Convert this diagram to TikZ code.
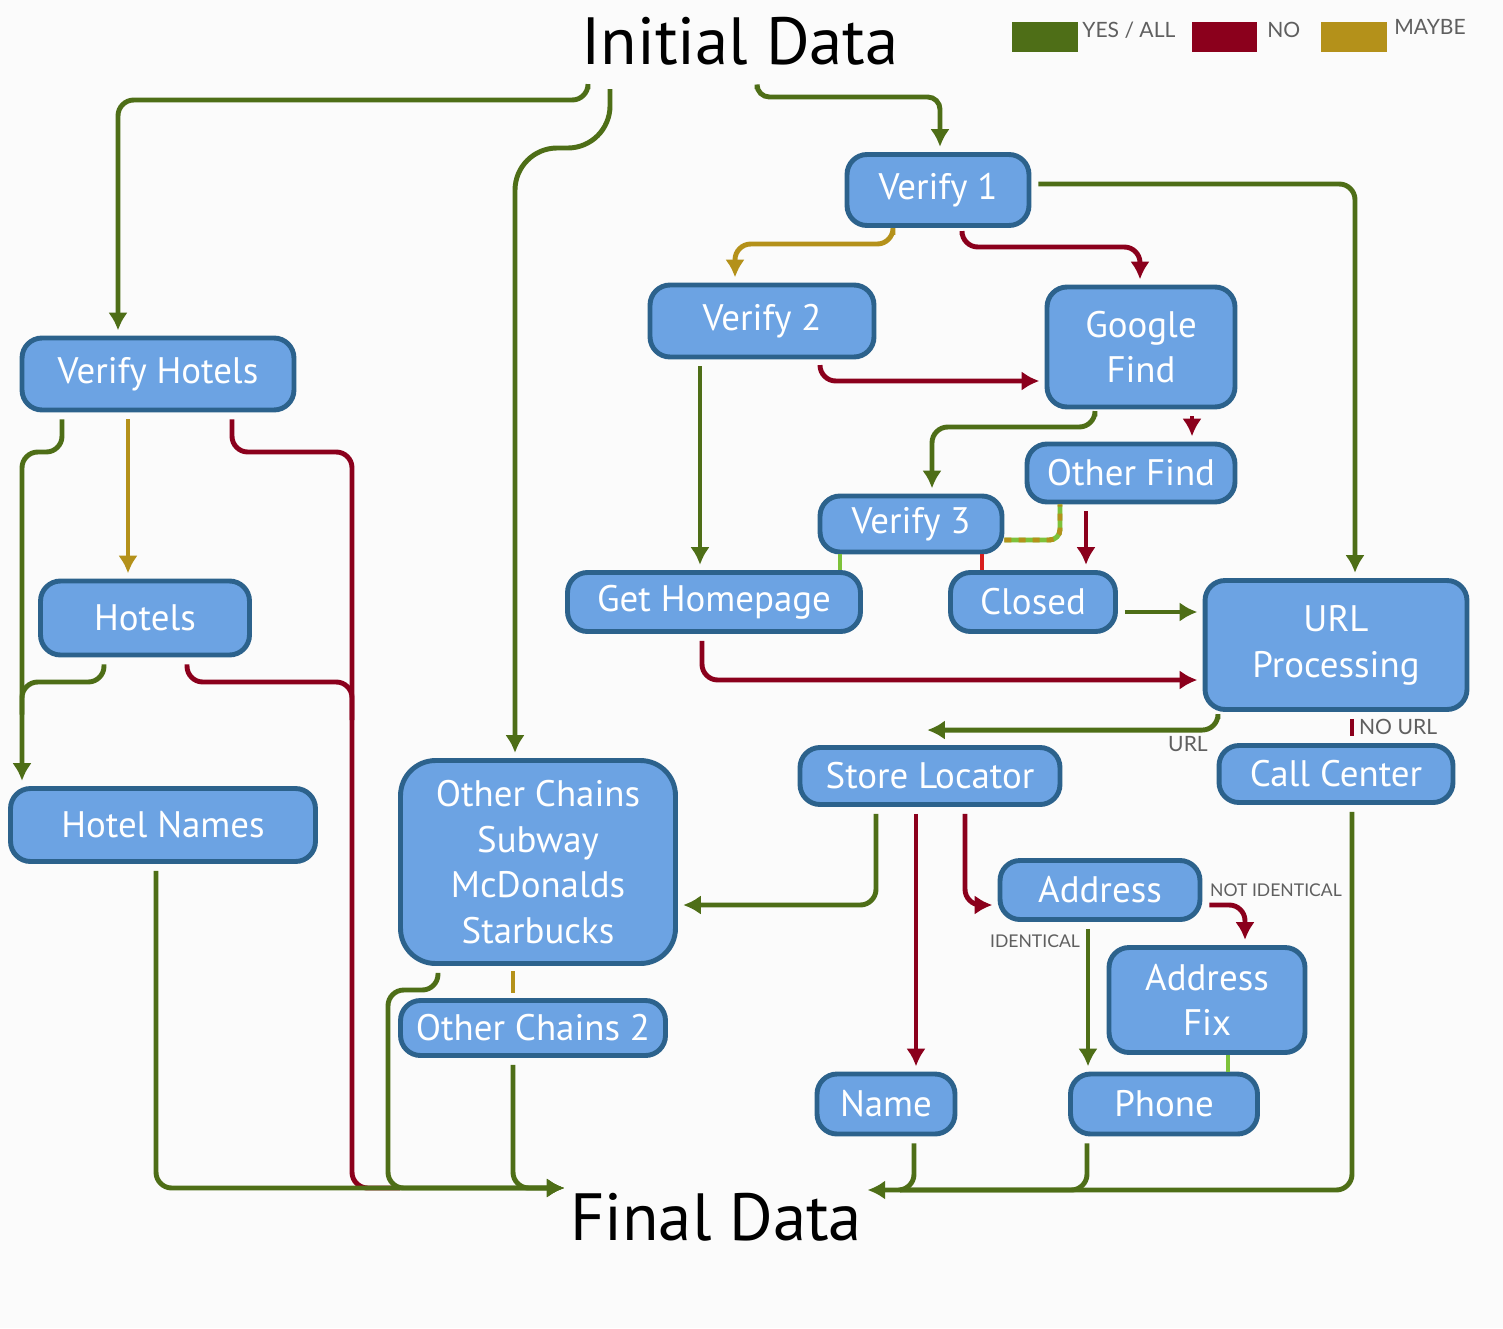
\documentclass[tikz,border=0pt]{standalone}
\usepackage{fontspec}
\setmainfont{PT Sans}
\newfontfamily\legendfont{Lato}
\usetikzlibrary{arrows.meta,calc}

\definecolor{pagebg}{RGB}{251,251,251}
\definecolor{boxfill}{RGB}{108,163,227}
\definecolor{boxline}{RGB}{44,98,140}
\definecolor{yescol}{RGB}{78,110,23}
\definecolor{nocol}{RGB}{139,0,28}
\definecolor{maybecol}{RGB}{180,145,26}
\definecolor{lightyes}{RGB}{125,194,58}
\definecolor{brightno}{RGB}{216,30,30}
\definecolor{labelgray}{RGB}{95,95,95}

\newcommand\boxfont{\fontsize{21}{26}\selectfont}
\newcommand\titlefont{\fontsize{38}{44}\selectfont}

\tikzset{
	box/.style={draw=boxline, fill=boxfill, line width=2.8pt, rounded corners=0.4cm,
		text=white, font=\boxfont, align=center, inner sep=0pt},
	title/.style={font=\titlefont, inner sep=0pt, anchor=base},
	flow/.style={line width=2.8pt, rounded corners=9pt, shorten <=4pt, shorten >=3pt,
		arrows={-Latex[length=10pt,width=11pt]}},
	flowyes/.style={flow, draw=yescol},
	flowno/.style={flow, draw=nocol},
	flowmaybe/.style={flow, draw=maybecol},
	stub/.style={line width=2.8pt},
	smalllabel/.style={font=\legendfont\fontsize{10}{12}\selectfont, text=labelgray, inner sep=1pt},
	urllabel/.style={font=\legendfont\fontsize{12}{14}\selectfont, text=labelgray, inner sep=1pt},
	legendtext/.style={font=\legendfont\fontsize{12}{14}\selectfont, text=labelgray, inner sep=0pt, anchor=west}
}

\begin{document}
\begin{tikzpicture}[x=0.02cm,y=-0.02cm]
	\fill[pagebg] (0,0) rectangle (1503,1328);
	\useasboundingbox (0,0) rectangle (1503,1328);

	% titles
	\node[title] (init) at (740,65) {Initial Data};
	\node[title] (final) at (716,1240) {Final Data};

	% legend
	\fill[yescol] (1012,22) rectangle (1078,52);
	\node[legendtext] (lyes) at (1082,30) {YES / ALL};
	\fill[nocol] (1192,22) rectangle (1257,52);
	\node[legendtext] (lno) at (1267,30) {NO};
	\fill[maybecol] (1321,22) rectangle (1387,52);
	\node[legendtext] (lmaybe) at (1394,27) {MAYBE};

	% boxes
	\node[box, minimum width=3.64cm, minimum height=1.42cm] (v1) at (938,190) {Verify 1};
	\node[box, minimum width=4.48cm, minimum height=1.44cm] (v2) at (762,321) {Verify 2};
	\node[box, minimum width=3.76cm, minimum height=2.40cm] (gfind) at (1141,347) {Google\\Find};
	\node[box, minimum width=5.44cm, minimum height=1.44cm] (vhotels) at (158,374) {Verify Hotels};
	\node[box, minimum width=4.16cm, minimum height=1.16cm] (ofind) at (1131,473) {Other Find};
	\node[box, minimum width=3.64cm, minimum height=1.12cm] (v3) at (911,524) {Verify 3};
	\node[box, minimum width=5.86cm, minimum height=1.18cm] (homepage) at (714,602) {Get Homepage};
	\node[box, minimum width=3.30cm, minimum height=1.18cm] (closed) at (1033,602) {Closed};
	\node[box, minimum width=5.24cm, minimum height=2.58cm] (urlproc) at (1336,645) {URL\\Processing};
	\node[box, minimum width=4.18cm, minimum height=1.48cm] (hotels) at (145,618) {Hotels};
	\node[box, minimum width=6.10cm, minimum height=1.46cm] (hnames) at (163,825) {Hotel Names};
	\node[box, rounded corners=0.7cm, minimum width=5.50cm, minimum height=4.06cm] (ochains) at (538,862) {Other Chains\\Subway\\McDonalds\\Starbucks};
	\node[box, minimum width=5.20cm, minimum height=1.14cm] (storeloc) at (930,776) {Store Locator};
	\node[box, minimum width=4.68cm, minimum height=1.14cm] (callc) at (1336,774) {Call Center};
	\node[box, minimum width=4.00cm, minimum height=1.18cm] (address) at (1100,890) {Address};
	\node[box, minimum width=3.92cm, minimum height=2.10cm] (afix) at (1207,1000) {Address\\Fix};
	\node[box, minimum width=5.30cm, minimum height=1.10cm] (ochains2) at (533,1028) {Other Chains 2};
	\node[box, minimum width=2.76cm, minimum height=1.20cm] (name) at (886,1104) {Name};
	\node[box, minimum width=3.74cm, minimum height=1.20cm] (phone) at (1164,1104) {Phone};

	% from the initial data
	\draw[flowyes] ($(init.base)+(-152,17)$) |- (118,100) -- (vhotels.north -| 118,0);
	\draw[flowyes, rounded corners=24pt] ($(init.base)+(-130,17)$) |- (515,148) -- (ochains.north -| 515,0);
	\draw[flowyes, rounded corners=7pt] ($(init.base)+(17,17)$) |- (940,97) -- (v1.north -| 940,0);

	% verify chain
	\draw[flowyes] (v1.east |- 0,184) -| (urlproc.north -| 1355,0);
	\draw[flowmaybe] (v1.south -| 893,0) |- (735,244) -- (v2.north -| 735,0);
	\draw[flowno] (v1.south -| 962,0) |- (1140,247) -- (gfind.north -| 1140,0);
	\draw[flowno] (v2.south -| 820,0) |- (gfind.west |- 0,381);
	\draw[flowyes] (v2.south -| 700,0) -- (homepage.north -| 700,0);
	\draw[flowyes] (gfind.south -| 1095,0) |- (932,427) -- (v3.north -| 932,0);
	\draw[flowno] (gfind.south -| 1192,0) -- (ofind.north -| 1192,0);
	\draw[flowno] (ofind.south -| 1086,0) -- (closed.north -| 1086,0);
	\draw[stub, lightyes, rounded corners=6pt] (v3.east |- 0,540) -| (ofind.south -| 1060,0);
	\draw[stub, maybecol, rounded corners=6pt, dash pattern=on 4pt off 4pt] (v3.east |- 0,540) -| (ofind.south -| 1060,0);
	\draw[stub, lightyes] (v3.south -| 840,0) -- (homepage.north -| 840,0);
	\draw[stub, brightno] (v3.south -| 982,0) -- (closed.north -| 982,0);
	\draw[flowyes] (closed.east |- 0,612) -- (urlproc.west |- 0,612);
	\draw[flowno] (homepage.south -| 702,0) |- (urlproc.west |- 0,680);

	% url processing
	\draw[flowyes] (urlproc.south -| 1218,0) |- ($(storeloc.north)+(-8,-15)$);
	\node[urllabel] (lurl) at (1188,744) {URL};
	\draw[stub, nocol, shorten <=4pt, shorten >=4pt] (urlproc.south -| 1352,0) -- (callc.north -| 1352,0);
	\node[urllabel, anchor=west] (lnourl) at (1357,727) {NO URL};

	% store locator
	\draw[flowyes] (storeloc.south -| 876,0) |- (ochains.east |- 0,905);
	\draw[flowno] (storeloc.south -| 916,0) -- (name.north -| 916,0);
	\draw[flowno] (storeloc.south -| 965,0) |- (address.west |- 0,905);
	\draw[flowno] (address.east |- 0,905) -| (afix.north -| 1245,0);
	\node[smalllabel] (lnotid) at (1276,890) {NOT IDENTICAL};
	\draw[flowyes] (address.south -| 1088,0) -- (phone.north -| 1088,0);
	\node[smalllabel] (lid) at (1035,941) {IDENTICAL};
	\draw[stub, lightyes] (afix.south -| 1228,0) -- (phone.north -| 1228,0);

	% hotels
	\draw[flowmaybe] (vhotels.south -| 128,0) -- (hotels.north -| 128,0);
	\draw[flowyes] (vhotels.south -| 62,0) |- (22,452) -- (hnames.north -| 22,0);
	\draw[flowyes, arrows=-] (hotels.south -| 104,0) |- (22,682) -- (22,720);
	\draw[flowno, arrows=-, shorten >=0pt] (vhotels.south -| 232,0) |- (352,452) |- (400,1188);
	\draw[flowno, arrows=-, shorten >=0pt] (hotels.south -| 187,0) |- (352,682) -- (352,720);

	% into the final data
	\draw[flowyes] (hnames.south -| 156,0) |- (final.west |- 0,1188);
	\draw[flowyes] (ochains.south -| 438,0) |- (388,990) |- (final.west |- 0,1188);
	\draw[stub, maybecol, shorten <=3pt, shorten >=3pt] (ochains.south -| 513,0) -- (ochains2.north -| 513,0);
	\draw[flowyes] (ochains2.south -| 513,0) |- (final.west |- 0,1188);
	\draw[flowyes] (name.south -| 914,0) |- (final.east |- 0,1190);
	\draw[flowyes, arrows=-, shorten >=0pt] (phone.south -| 1087,0) |- (900,1190);
	\draw[flowyes, arrows=-, shorten >=0pt] (callc.south -| 1352,0) |- (900,1190);
\end{tikzpicture}
\end{document}
